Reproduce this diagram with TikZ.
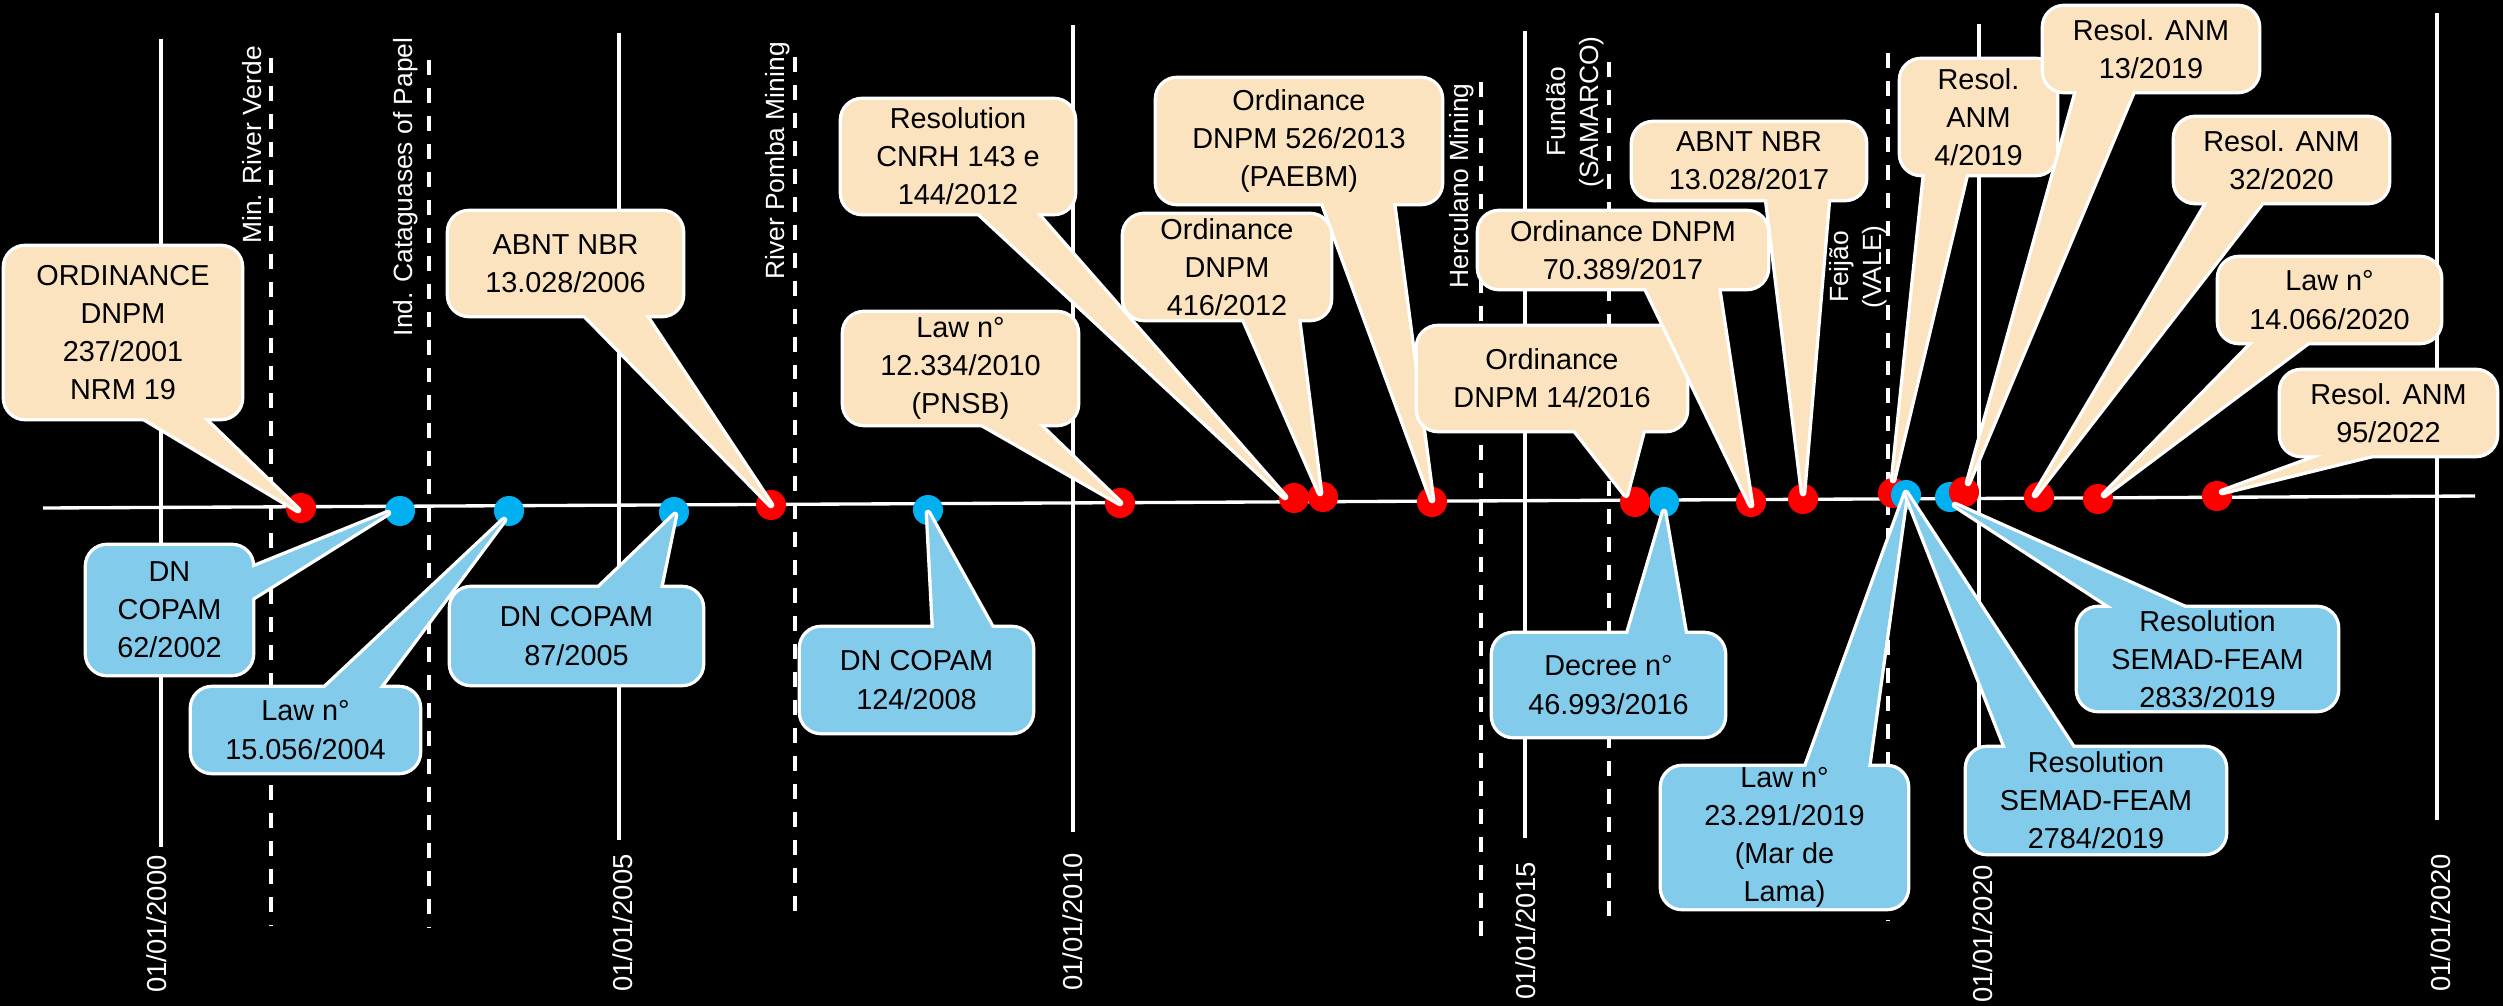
\documentclass[tikz,border=0pt]{standalone}
\usepackage{fontspec}
\setmainfont{Liberation Sans}
\usetikzlibrary{calc}

\definecolor{notebeige}{RGB}{250,227,190}
\definecolor{noteblue}{RGB}{131,203,235}
\definecolor{dotblue}{RGB}{0,176,240}
\definecolor{dotred}{RGB}{255,0,0}

% Rounded callout with a wedge tail: #1 name, #2 fill colour, #3 centre,
% #4 width, #5 height (pixels), #6 and #7 tail base points, #8 tail tip.
% The outline is stroked twice as wide and the inside refilled, so that
% only the outer edge of the box-and-tail union keeps a white border.
\newcommand\callout[8]{%
  \node[cbox, fill=#2, draw=white, line width=1.9pt,
        minimum width=#4*0.01cm, minimum height=#5*0.01cm] (#1) at (#3) {};
  \filldraw[fill=#2, draw=white, line width=1.9pt, line join=round]
        (#6) -- (#8) -- (#7) -- cycle;
  \fill[#2] (#6) -- (#8) -- (#7) -- cycle;
  \fill[#2, rounded corners=0.2cm] (#1.south west) rectangle (#1.north east);
}

\begin{document}
\begin{tikzpicture}[x=0.01cm, y=-0.01cm,
  cbox/.style={rectangle, rounded corners=0.2cm, inner sep=0pt, outer sep=0pt},
  ctext/.style={align=center, inner sep=0pt, text=black,
                font=\fontsize{8.2}{10.85}\selectfont},
  reddot/.style={circle, fill=dotred, minimum size=0.3cm, inner sep=0pt},
  bluedot/.style={circle, fill=dotblue, minimum size=0.3cm, inner sep=0pt},
  dateline/.style={white, line width=0.95pt},
  eventline/.style={white, line width=1.2pt, dash pattern=on 4.25pt off 3.7pt},
  datelbl/.style={rotate=90, text=white, inner sep=0pt,
                  font=\fontsize{7.8}{9.3}\selectfont},
  evlbl/.style={rotate=90, text=white, inner sep=0pt, align=center,
                font=\fontsize{7.5}{9.2}\selectfont},
]
\fill[black] (0,0) rectangle (2503,1006);
\useasboundingbox (0,0) rectangle (2503,1006);

% ---- year grid -------------------------------------------------------
\draw[dateline] (161,39) -- (161,847);
\draw[dateline] (619,33) -- (619,840);
\draw[dateline] (1073,25) -- (1073,832);
\draw[dateline] (1525,31) -- (1525,838);
\draw[dateline] (1979,24) -- (1979,845);
\draw[dateline] (2437,13) -- (2437,820);
\node[datelbl] (y2000) at (157,924) {01/01/2000};
\node[datelbl] (y2005) at (623,923) {01/01/2005};
\node[datelbl] (y2010) at (1073,922) {01/01/2010};
\node[datelbl] (y2015) at (1526,931) {01/01/2015};
\node[datelbl] (y2020a) at (1983,934) {01/01/2020};
\node[datelbl] (y2020b) at (2441,923) {01/01/2020};

% ---- dam failures ----------------------------------------------------
\draw[eventline] (271,58) -- (271,925);
\draw[eventline] (429,60) -- (429,927);
\draw[eventline] (795,57) -- (795,923);
\draw[eventline] (1481,82) -- (1481,948);
\draw[eventline] (1609,62) -- (1609,927);
\draw[eventline] (1888,53) -- (1888,920);
\node[evlbl] (eMin) at (252,145) {Min. River Verde};
\node[evlbl] (eCat) at (406,187) {Ind. Cataguases of Papel};
\node[evlbl] (ePom) at (778,161) {River Pomba Mining};
\node[evlbl] (eHer) at (1462,186) {Herculano Mining};
\node[evlbl] (eFun) at (1575,112) {Fundão\\(SAMARCO)};
\node[evlbl] (eFei) at (1858,267) {Feijão\\(VALE)};

% ---- time axis -------------------------------------------------------
\coordinate (axisL) at (43,508);
\coordinate (axisR) at (2475,496);
\draw[white, line width=0.95pt] (axisL) -- (axisR);

% ---- markers ---------------------------------------------------------
\node[bluedot] (db1) at (400,511) {};
\node[bluedot] (db2) at (509,511) {};
\node[bluedot] (db3) at (674,512) {};
\node[bluedot] (db4) at (928,510) {};
\node[bluedot] (db5) at (1664,502) {};
\node[reddot] (dr1) at (301,508) {};
\node[reddot] (dr2) at (771,505) {};
\node[reddot] (dr3) at (1120,503) {};
\node[reddot] (dr4) at (1294,498) {};
\node[reddot] (dr5) at (1323,497) {};
\node[reddot] (dr6) at (1432,502) {};
\node[reddot] (dr7) at (1635,502) {};
\node[reddot] (dr8) at (1751,502) {};
\node[reddot] (dr9) at (1803,499) {};
\node[reddot] (dr10) at (1893,493) {};
\node[bluedot] (db6) at (1906,495) {};
\node[bluedot] (db7) at (1950,497) {};
\node[reddot] (dr11) at (1964,492) {};
\node[reddot] (dr12) at (2039,497) {};
\node[reddot] (dr13) at (2098,499) {};
\node[reddot] (dr14) at (2217,496) {};

% ---- federal / technical norms (above the axis) ----------------------
\callout{cR1}{notebeige}{123,332.5}{236}{171}{cR1.south -| 144,0}{cR1.south -| 203,0}{[shift={(-3,2)}]dr1.center}
\node[ctext] (tR1) at (cR1) {ORDINANCE\\DNPM\\237/2001\\NRM 19};
\callout{cR2}{notebeige}{565.5,263.5}{233}{103}{cR2.south -| 585,0}{cR2.south -| 645,0}{dr2.center}
\node[ctext] (tR2) at (cR2) {ABNT NBR\\13.028/2006};
\callout{cR3}{notebeige}{960.5,368.5}{233}{111}{cR3.south -| 982,0}{cR3.south -| 1038,0}{dr3.center}
\node[ctext] (tR3) at (cR3) {Law n°\\12.334/2010\\(PNSB)};
\callout{cR4}{notebeige}{958,156.5}{232}{113}{cR4.south -| 979,0}{cR4.south -| 1036,0}{[shift={(-9,-1)}]dr4.center}
\node[ctext] (tR4) at (cR4) {Resolution\\CNRH 143 e\\144/2012};
\callout{cR6}{notebeige}{1299,141}{284}{124}{cR6.south -| 1323,0}{cR6.south -| 1393,0}{[shift={(0,-2)}]dr6.center}
\node[ctext] (tR6) at (cR6) {Ordinance\\DNPM 526/2013\\(PAEBM)};
\callout{cR5}{notebeige}{1227,267}{206}{104}{cR5.south -| 1244,0}{cR5.south -| 1298,0}{[shift={(-3,-4)}]dr5.center}
\node[ctext] (tR5) at (cR5) {Ordinance\\DNPM\\416/2012};
\callout{cR7}{notebeige}{1552,378.5}{268}{103}{cR7.south -| 1575,0}{cR7.south -| 1643,0}{[shift={(-9,-7)}]dr7.center}
\node[ctext] (tR7) at (cR7) {Ordinance\\DNPM 14/2016};
\callout{cR8}{notebeige}{1623,250}{288}{76}{cR8.south -| 1646,0}{cR8.south -| 1718,0}{[shift={(0,3)}]dr8.center}
\node[ctext] (tR8) at (cR8) {Ordinance DNPM\\70.389/2017};
\callout{cR9}{notebeige}{1749,161}{232}{76}{cR9.south -| 1767,0}{cR9.south -| 1828,0}{[shift={(0,-6)}]dr9.center}
\node[ctext] (tR9) at (cR9) {ABNT NBR\\13.028/2017};
\callout{cR10}{notebeige}{1978.5,117}{155}{114}{cR10.south -| 1925,0}{cR10.south -| 1966,0}{[shift={(0,-13)}]dr10.center}
\node[ctext] (tR10) at (cR10) {Resol.\\ANM\\4/2019};
\callout{cR11}{notebeige}{2151,49}{214}{84}{cR11.south -| 2077,0}{cR11.south -| 2133,0}{[shift={(4,-9)}]dr11.center}
\node[ctext] (tR11) at (cR11) {Resol. ANM\\13/2019};
\callout{cR12}{notebeige}{2281.5,160}{213}{84}{cR12.south -| 2208,0}{cR12.south -| 2262,0}{[shift={(-4,-2)}]dr12.center}
\node[ctext] (tR12) at (cR12) {Resol. ANM\\32/2020};
\callout{cR13}{notebeige}{2329.5,300}{221}{84}{cR13.south -| 2254,0}{cR13.south -| 2308,0}{[shift={(6,-4)}]dr13.center}
\node[ctext] (tR13) at (cR13) {Law n°\\14.066/2020};
\callout{cR14}{notebeige}{2388.5,413}{215}{84}{cR14.south -| 2323,0}{cR14.south -| 2372,0}{[shift={(5,-4)}]dr14.center}
\node[ctext] (tR14) at (cR14) {Resol. ANM\\95/2022};

% ---- Minas Gerais state norms (below the axis) -----------------------
\callout{cB1}{noteblue}{169.5,610}{165}{128}{cB1.east |- 0,568}{cB1.east |- 0,598}{[shift={(-12,2)}]db1.center}
\node[ctext] (tB1) at (cB1) {DN\\COPAM\\62/2002};
\callout{cB2}{noteblue}{305.5,730}{227}{84}{cB2.north -| 325,0}{cB2.north -| 379,0}{[shift={(-5,9)}]db2.center}
\node[ctext] (tB2) at (cB2) {Law n°\\15.056/2004};
\callout{cB3}{noteblue}{576.5,636}{251}{96}{cB3.north -| 599,0}{cB3.north -| 660,0}{[shift={(1,3)}]db3.center}
\node[ctext] (tB3) at (cB3) {DN COPAM\\87/2005};
\callout{cB4}{noteblue}{916.5,680}{231}{104}{cB4.north -| 934,0}{cB4.north -| 992,0}{[shift={(0,3)}]db4.center}
\node[ctext] (tB4) at (cB4) {DN COPAM\\124/2008};
\callout{cB5}{noteblue}{1608.5,685}{231}{102}{cB5.north -| 1628,0}{cB5.north -| 1685,0}{[shift={(0,10)}]db5.center}
\node[ctext] (tB5) at (cB5) {Decree n°\\46.993/2016};
\callout{cB6}{noteblue}{1784.5,837.5}{245}{141}{cB6.north -| 1806,0}{cB6.north -| 1868,0}{[shift={(0,-2)}]db6.center}
\node[ctext] (tB6) at (cB6) {Law n°\\23.291/2019\\(Mar de\\Lama)};
\callout{cB7}{noteblue}{2096,800.5}{258}{105}{cB7.north -| 2006,0}{cB7.north -| 2073,0}{[shift={(0,-2)}]db6.center}
\node[ctext] (tB7) at (cB7) {Resolution\\SEMAD-FEAM\\2784/2019};
\callout{cB8}{noteblue}{2207.5,659}{259}{102}{cB8.north -| 2113,0}{cB8.north -| 2185,0}{[shift={(5,8)}]db7.center}
\node[ctext] (tB8) at (cB8) {Resolution\\SEMAD-FEAM\\2833/2019};
\end{tikzpicture}
\end{document}
